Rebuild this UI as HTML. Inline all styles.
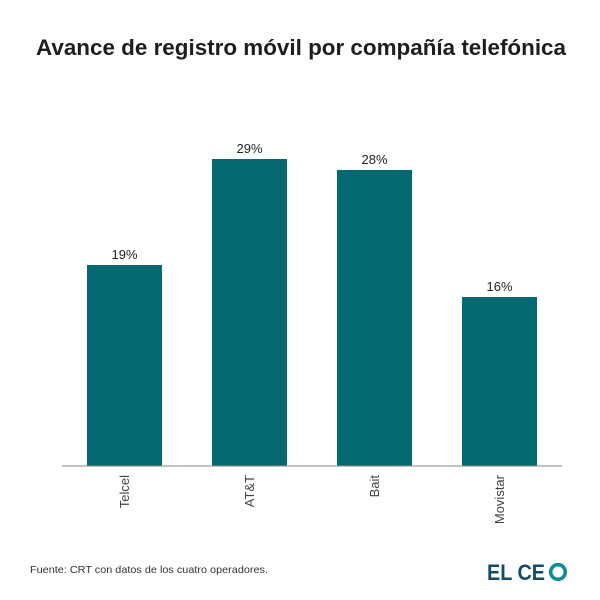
<!DOCTYPE html>
<html><head><meta charset="utf-8"><style>
html,body{margin:0;padding:0;background:#fff;}
svg{display:block;}
text{font-family:"Liberation Sans",sans-serif;}
</style></head><body>
<svg width="600" height="600" viewBox="0 0 600 600">
<rect width="600" height="600" fill="#fff"/>
<text x="36" y="55" font-size="22" font-weight="bold" fill="#1e1e1e" textLength="530" lengthAdjust="spacingAndGlyphs">Avance de registro móvil por compañía telefónica</text>
<g fill="#056972">
<rect x="87" y="265" width="75" height="201"/>
<rect x="212" y="159" width="75" height="307"/>
<rect x="337" y="170" width="75" height="296"/>
<rect x="462" y="297" width="75" height="169"/>
</g>
<line x1="62" y1="466" x2="562" y2="466" stroke="#888" stroke-width="1"/>
<g font-size="13" fill="#222" text-anchor="middle">
<text x="124.5" y="259">19%</text>
<text x="249.5" y="153">29%</text>
<text x="374.5" y="164">28%</text>
<text x="499.5" y="291">16%</text>
</g>
<g font-size="13" fill="#444" text-anchor="end">
<text transform="translate(129,475) rotate(-90)">Telcel</text>
<text transform="translate(254,475) rotate(-90)">AT&amp;T</text>
<text transform="translate(379,475) rotate(-90)">Bait</text>
<text transform="translate(504,475) rotate(-90)">Movistar</text>
</g>
<text x="30" y="573" font-size="10.5" fill="#333" textLength="238" lengthAdjust="spacingAndGlyphs">Fuente: CRT con datos de los cuatro operadores.</text>
<text x="487" y="580" font-size="22" font-weight="bold" fill="#134c6a" textLength="58" lengthAdjust="spacingAndGlyphs">EL CE</text>
<circle cx="558" cy="572" r="7.3" fill="none" stroke="#0f8a9a" stroke-width="3.6"/>
</svg>
</body></html>
